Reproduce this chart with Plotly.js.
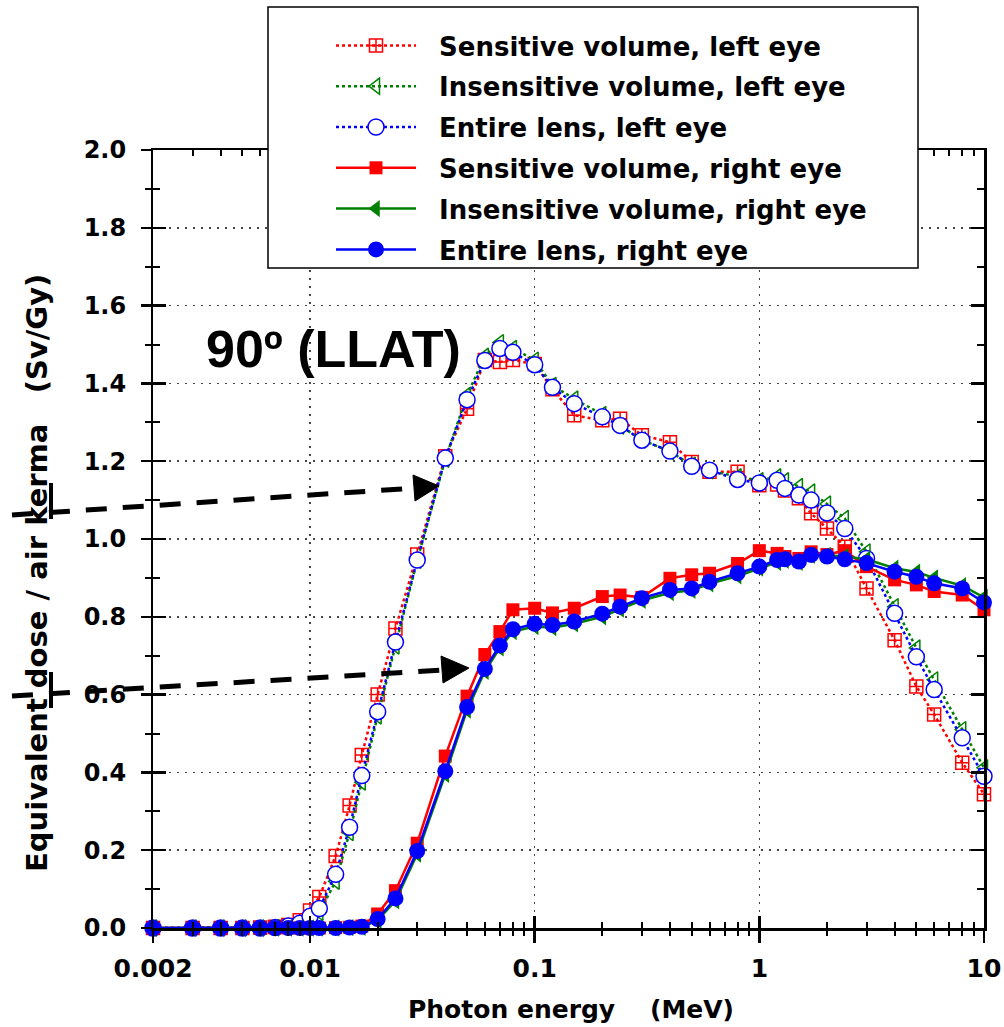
<!DOCTYPE html>
<html>
<head>
<meta charset="utf-8">
<script src="https://cdn.plot.ly/plotly-3.0.1.min.js"></script>
<style>html,body{margin:0;padding:0;background:#fff;}#chart{width:1004px;height:1027px;}</style>
</head>
<body>
<div id="chart"></div>
<script>
// ---- data (photon energy in MeV, equivalent dose / air kerma in Sv/Gy) ----
const energy = [0.002,0.003,0.004,0.005,0.006,0.007,0.008,0.009,0.01,0.011,0.013,0.015,0.017,0.02,0.024,0.03,0.04,0.05,0.06,0.07,0.08,0.1,0.12,0.15,0.2,0.24,0.3,0.4,0.5,0.6,0.8,1,1.2,1.3,1.5,1.7,2,2.4,3,4,5,6,8,10];
const sensLeft = [0,0,0,0,0.001,0.003,0.008,0.02,0.045,0.08,0.185,0.315,0.445,0.6,0.77,0.96,1.213,1.335,1.46,1.455,1.46,1.45,1.385,1.318,1.305,1.309,1.267,1.249,1.198,1.173,1.173,1.138,1.14,1.125,1.105,1.066,1.027,0.98,0.873,0.74,0.621,0.549,0.425,0.344];
const insensLeft = [0,0,0,0,0,0.001,0.004,0.01,0.025,0.04,0.12,0.245,0.375,0.545,0.725,0.945,1.205,1.37,1.47,1.505,1.49,1.46,1.395,1.36,1.32,1.29,1.255,1.225,1.19,1.175,1.16,1.15,1.16,1.15,1.135,1.121,1.09,1.053,0.967,0.826,0.72,0.638,0.51,0.412];
const entireLeft = [0,0,0,0,0,0.001,0.005,0.012,0.03,0.05,0.138,0.259,0.392,0.556,0.735,0.946,1.208,1.358,1.459,1.49,1.48,1.448,1.39,1.348,1.314,1.292,1.254,1.226,1.187,1.177,1.153,1.144,1.151,1.13,1.113,1.1,1.067,1.027,0.95,0.809,0.697,0.613,0.489,0.39];
const sensRight = [0,0,0,0,0,0,0,0,0,0,0.001,0.002,0.005,0.036,0.096,0.218,0.442,0.596,0.703,0.762,0.818,0.822,0.81,0.822,0.852,0.856,0.85,0.899,0.908,0.912,0.937,0.97,0.963,0.955,0.95,0.967,0.96,0.97,0.929,0.895,0.882,0.865,0.856,0.818];
const insensRight = [0,0,0,0,0,0,0,0,0,0,0,0.001,0.002,0.02,0.07,0.19,0.395,0.56,0.66,0.72,0.762,0.775,0.772,0.782,0.8,0.82,0.842,0.862,0.868,0.885,0.905,0.925,0.94,0.945,0.94,0.958,0.958,0.955,0.948,0.925,0.915,0.9,0.88,0.85];
const entireRight = [0,0,0,0,0,0,0,0,0,0,0,0.001,0.003,0.023,0.076,0.198,0.403,0.568,0.666,0.726,0.768,0.782,0.779,0.788,0.808,0.826,0.848,0.869,0.873,0.89,0.912,0.929,0.946,0.948,0.942,0.959,0.955,0.948,0.938,0.916,0.903,0.886,0.873,0.837];

const seriesNames = ["Sensitive volume, left eye","Insensitive volume, left eye","Entire lens, left eye",
                     "Sensitive volume, right eye","Insensitive volume, right eye","Entire lens, right eye"];
const xTickVals = [0.002,0.01,0.1,1,10];
const xTickText = ["0.002","0.01","0.1","1","10"];

// ---- styling ----
const RED = "#ff0000", GREEN = "#008000", BLUE = "#0000ff";
const BOLD = "DejaVu Sans, Arial, sans-serif";
const W = 1004, H = 1027;
const M = {l:153, r:20, t:150, b:99};
const PW = W - M.l - M.r, PH = H - M.t - M.b;
const px = x => (x - M.l) / PW;          // pixel -> paper x
const py = y => (H - M.b - y) / PH;      // pixel -> paper y

const minorX = [];
for (let d = -3; d <= 0; d++) for (let k = 2; k <= 9; k++) {
  const v = k * Math.pow(10, d);
  if (v > 0.002 && v < 10) minorX.push(v);
}

function tr(y, name, i, mk, ln) {
  return {x: energy, y: y, name: "&nbsp;&nbsp;" + name, type: "scatter", mode: "lines+markers",
          legendgroup: "g" + i, cliponaxis: false, marker: mk, line: ln, hoverinfo: "skip"};
}
const traces = [
  tr(sensLeft, seriesNames[0], 0, {symbol:"square-cross-open", size:13, color:RED, line:{width:1.5, color:RED}}, {color:RED, width:2.5, dash:"dot"}),
  tr(insensLeft, seriesNames[1], 1, {symbol:"triangle-left-open", size:14, color:GREEN, line:{width:1.5, color:GREEN}}, {color:GREEN, width:2.5, dash:"dot"}),
  tr(entireLeft, seriesNames[2], 2, {symbol:"circle", size:16, color:"#ffffff", line:{width:1.5, color:BLUE}}, {color:BLUE, width:2.5, dash:"dot"}),
  tr(sensRight, seriesNames[3], 3, {symbol:"square", size:13, color:RED, line:{width:0}}, {color:RED, width:2.5}),
  tr(insensRight, seriesNames[4], 4, {symbol:"triangle-left", size:15, color:GREEN, line:{width:0}}, {color:GREEN, width:2.5}),
  tr(entireRight, seriesNames[5], 5, {symbol:"circle", size:16, color:BLUE, line:{width:0}}, {color:BLUE, width:2.5}),
  // invisible carrier so the overlaid tick/label axes (x2, y2) are drawn
  {x: energy, y: entireRight, xaxis: "x2", yaxis: "y2", type: "scatter", mode: "markers",
   marker: {opacity: 0, size: 1}, showlegend: false, hoverinfo: "skip"}
];

const gridDash = "2px,6px";
const xRange = [Math.log10(0.002), Math.log10(10)];
const yRange = [0, 2];

function arrowShapes(x0, y0, x1, y1, tip, baseTop, baseBot, bar) {
  return [
    {type:"line", xref:"paper", yref:"paper", x0:px(x0), y0:py(y0), x1:px(x1), y1:py(y1),
     line:{color:"#000", width:5, dash:"21px,16px"}},
    {type:"path", xref:"paper", yref:"paper",
     path:`M ${px(tip[0])},${py(tip[1])} L ${px(baseTop[0])},${py(baseTop[1])} L ${px(baseBot[0])},${py(baseBot[1])} Z`,
     fillcolor:"#000", line:{color:"#000", width:1}},
    {type:"line", xref:"paper", yref:"paper", x0:px(bar[0]), y0:py(bar[1]), x1:px(bar[0]), y1:py(bar[2]),
     line:{color:"#000", width:4}}
  ];
}
const shapes = [].concat(
  arrowShapes(12, 515, 416, 488, [439, 486], [413, 475], [415, 501], [51, 483, 519]),
  arrowShapes(12, 696, 443, 670, [469, 668], [441, 656], [443, 683], [51, 672, 708]),
  [{type:"rect", xref:"paper", yref:"paper", layer:"above",
    x0:px(268), x1:px(918), y0:py(7), y1:py(268),
    fillcolor:"#ffffff", line:{color:"#000", width:1.5}}]
);

const layout = {
  width: W, height: H,
  margin: M,
  paper_bgcolor: "#fff", plot_bgcolor: "#fff",
  showlegend: true,
  legend: {x: px(331), y: py(22), xanchor: "left", yanchor: "top",
           bgcolor: "rgba(0,0,0,0)", borderwidth: 0,
           font: {family: BOLD, size: 26, color: "#000", weight: "bold"},
           traceorder: "grouped", tracegroupgap: 4, itemwidth: 80},
  xaxis: {type: "log", range: xRange, showline: true, linecolor: "#000", linewidth: 2.5,
          mirror: "allticks", ticks: "inside", ticklen: 12, tickwidth: 2.5, tickcolor: "#000",
          tickmode: "array", tickvals: xTickVals, showticklabels: false,
          showgrid: true, gridcolor: "#444", gridwidth: 1.5, griddash: gridDash, zeroline: false,
          minor: {ticks: "inside", ticklen: 6, tickwidth: 2, tickcolor: "#000", tickmode: "array", tickvals: minorX, showgrid: false}},
  xaxis2: {type: "log", range: xRange, overlaying: "x", side: "bottom", anchor: "y2",
           showline: false, showgrid: false, zeroline: false,
           ticks: "outside", ticklen: 14, tickwidth: 2.5, tickcolor: "#000",
           tickmode: "array", tickvals: xTickVals, ticktext: xTickText,
           tickfont: {family: BOLD, size: 25, color: "#000", weight: "bold"}, ticklabelstandoff: 4,
           minor: {ticks: "outside", ticklen: 7, tickwidth: 2, tickcolor: "#000", tickmode: "array", tickvals: minorX, showgrid: false}},
  yaxis: {range: yRange, showline: true, linecolor: "#000", linewidth: 2.5,
          mirror: "allticks", ticks: "inside", ticklen: 13, tickwidth: 2.5, tickcolor: "#000",
          tickmode: "linear", tick0: 0, dtick: 0.2, showticklabels: false,
          showgrid: true, gridcolor: "#444", gridwidth: 1.5, griddash: gridDash, zeroline: false,
          minor: {ticks: "inside", ticklen: 7, tickwidth: 2, tickcolor: "#000", dtick: 0.1, showgrid: false}},
  yaxis2: {range: yRange, overlaying: "y", side: "left", anchor: "x2",
           showline: false, showgrid: false, zeroline: false,
           ticks: "outside", ticklen: 11, tickwidth: 2.5, tickcolor: "#000",
           tickmode: "linear", tick0: 0, dtick: 0.2, tickformat: ".1f",
           tickfont: {family: BOLD, size: 24, color: "#000", weight: "bold"}, ticklabelstandoff: 10,
           minor: {ticks: "outside", ticklen: 7, tickwidth: 2, tickcolor: "#000", dtick: 0.1, showgrid: false}},
  shapes: shapes,
  annotations: [
    {xref: "paper", yref: "paper", x: px(571), y: py(1009), xanchor: "center", yanchor: "middle", showarrow: false,
     text: "Photon energy&nbsp;&nbsp;&nbsp;&nbsp;(MeV)", font: {family: BOLD, size: 25, color: "#000", weight: "bold"}},
    {xref: "paper", yref: "paper", x: px(37), y: py(573), xanchor: "center", yanchor: "middle", showarrow: false,
     textangle: -90, text: "Equivalent dose / air kerma&nbsp;&nbsp;&nbsp;(Sv/Gy)",
     font: {family: BOLD, size: 29, color: "#000", weight: "bold"}},
    {xref: "paper", yref: "paper", x: px(204), y: py(349), xanchor: "left", yanchor: "middle", showarrow: false,
     text: "90º (LLAT)", font: {family: "Liberation Sans, Arial, sans-serif", size: 52, color: "#000", weight: "bold"}}
  ]
};

Plotly.newPlot("chart", traces, layout, {staticPlot: true, displayModeBar: false});
</script>
</body>
</html>
